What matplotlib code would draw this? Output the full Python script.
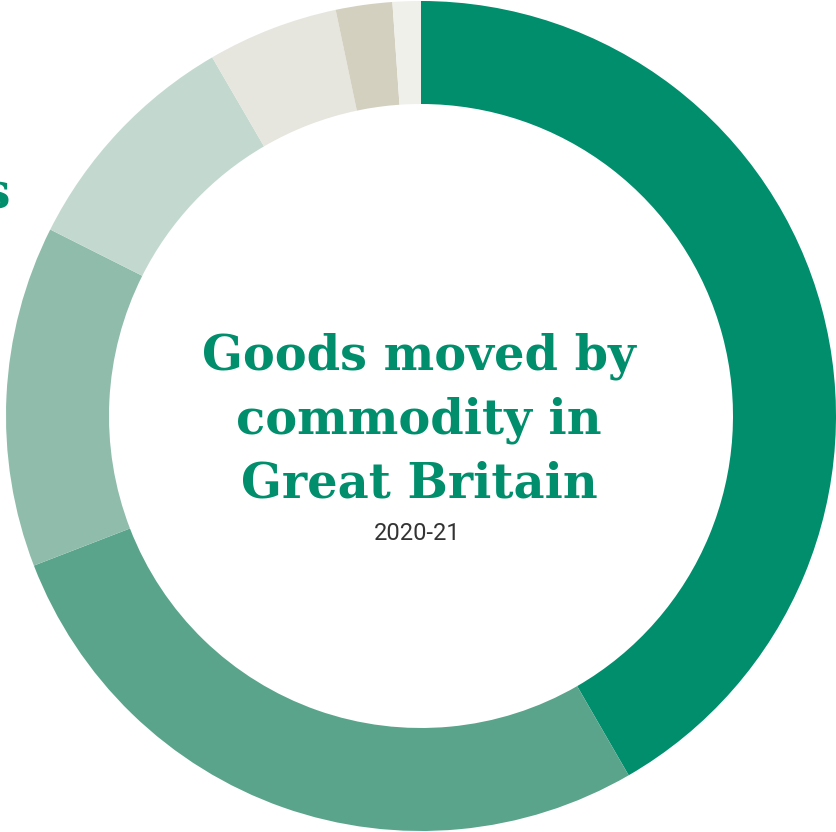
import matplotlib.pyplot as plt

# share of goods moved, clockwise from 12 o'clock (%)
commodities = ['Domestic intermodal', 'Construction', 'Other', 'Metals',
               'Industrial minerals', 'Coal', 'Oil and petroleum']
shares = [41.7, 27.5, 13.3, 9.2, 5.1, 2.2, 1.1]
colours = ['#008e6c', '#5aa48c', '#8fbcab', '#c3d9d0',
           '#e6e5de', '#d3d0c0', '#f0f0ea']

title_lines = ['Goods moved by', 'commodity in', 'Great Britain']
subtitle = '2020-21'
green = '#008e6c'

fig = plt.figure(figsize=(8.36, 8.32), dpi=100)
ax = fig.add_axes([0, 0, 1, 1])

# work in pixel units so the ring sits where we want it
cx, cy = 421, 416
outer, ring = 415, 103
ax.pie(shares, colors=colours, startangle=90, counterclock=False,
       center=(cx, cy), radius=outer,
       wedgeprops=dict(width=ring, linewidth=0))
ax.set_xlim(0, 836)
ax.set_ylim(0, 832)
ax.set_aspect('equal')
ax.axis('off')

# label of a slice sitting off to the left, mostly outside the frame
ax.text(10, 624, 'Industrial minerals', ha='right', va='baseline',
        fontsize=36, fontweight='bold', family='DejaVu Serif', color=green)

for i, line in enumerate(title_lines):
    ax.text(cx - 2, 462 - i * 63.5, line, ha='center', va='baseline',
            fontsize=34.5, fontweight='heavy', family='DejaVu Serif', color=green)

ax.text(cx - 4, 299, subtitle, ha='center', va='center',
        fontsize=17, family='Roboto', color='#333333')

fig.savefig('out.png', dpi=100)
